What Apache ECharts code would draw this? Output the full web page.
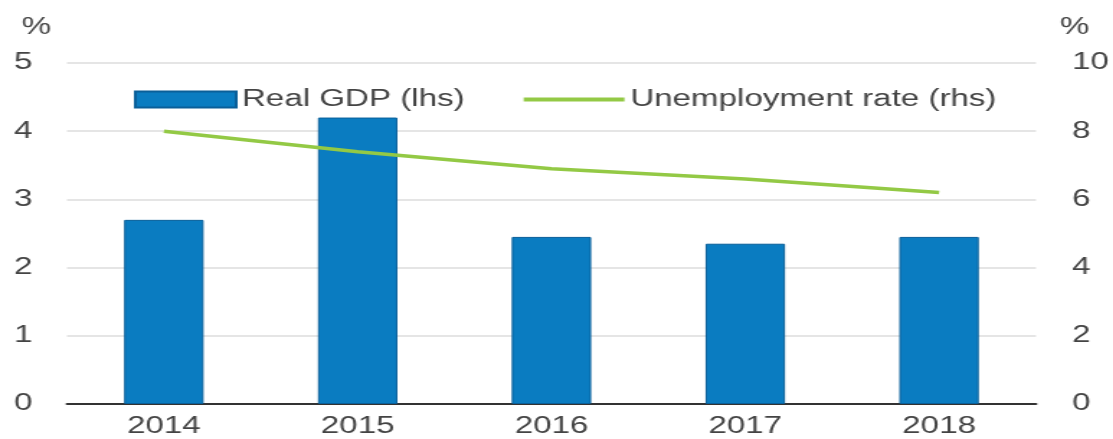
<!DOCTYPE html>
<html>
<head>
<meta charset="utf-8">
<script src="https://cdn.jsdelivr.net/npm/echarts@6/dist/echarts.min.js"></script>
<style>
	html, body { margin: 0; padding: 0; background: #fff; overflow: hidden; }
	/* the source picture is stretched sideways, so the chart is too */
	#chart { width: 773px; height: 439px; transform: scaleX(1.44); transform-origin: 0 0; }
</style>
</head>
<body>
<div id="chart"></div>
<script>
"use strict";
var years = [ '2014', '2015', '2016', '2017', '2018' ];
var realGdp = [ 2.7, 4.2, 2.45, 2.35, 2.45 ];
var unemployment = [ 8.0, 7.4, 6.9, 6.6, 6.2 ];
var leftTicks = { min : 0, max : 5, interval : 1 };
var rightTicks = { min : 0, max : 10, interval : 2 };

var textColor = '#444';
var fontFamily = '"Liberation Sans", Arial, sans-serif';

function gdpChart() {
	var chart = echarts.init(document.getElementById('chart'));

	chart.setOption({
		animation : false,
		textStyle : {
			fontFamily : fontFamily
		},
		grid : {
			left : 46.5,
			right : 53,
			top : 63,
			bottom : 35
		},
		legend : {
			left : 88,
			top : 83,
			itemWidth : 70,
			itemHeight : 16,
			itemGap : 39,
			textStyle : {
				fontSize : 23,
				color : textColor,
				padding : [ 0, 0, 0, -1 ]
			},
			data : [ {
				name : 'Real GDP (lhs)',
				icon : 'rect'
			}, {
				name : 'Unemployment rate (rhs)',
				// no marker in the middle of the line key
				itemStyle : {
					opacity : 0
				},
				lineStyle : {
					width : 4
				}
			} ]
		},
		graphic : [ {
			type : 'text',
			left : 15,
			top : 16,
			style : {
				text : '%',
				fontSize : 23,
				fill : textColor,
				fontFamily : fontFamily
			}
		}, {
			type : 'text',
			left : 736,
			top : 16,
			style : {
				text : '%',
				fontSize : 23,
				fill : textColor,
				fontFamily : fontFamily
			}
		} ],
		xAxis : {
			type : 'category',
			data : years,
			axisLine : {
				lineStyle : {
					color : '#333',
					width : 2
				}
			},
			axisTick : {
				inside : true,
				length : 5,
				lineStyle : {
					color : '#333',
					width : 2
				}
			},
			axisLabel : {
				fontSize : 23,
				color : textColor,
				margin : 11
			}
		},
		yAxis : [ {
			type : 'value',
			min : leftTicks.min,
			max : leftTicks.max,
			interval : leftTicks.interval,
			axisLine : { show : false },
			axisTick : { show : false },
			axisLabel : {
				fontSize : 23,
				color : textColor,
				margin : 24
			},
			splitLine : {
				lineStyle : {
					color : '#dcdcdc',
					width : 1.5
				}
			}
		}, {
			type : 'value',
			min : rightTicks.min,
			max : rightTicks.max,
			interval : rightTicks.interval,
			axisLine : { show : false },
			axisTick : { show : false },
			axisLabel : {
				fontSize : 23,
				color : textColor,
				margin : 25
			},
			splitLine : { show : false }
		} ],
		series : [ {
			name : 'Real GDP (lhs)',
			type : 'bar',
			data : realGdp,
			barWidth : '41%',
			itemStyle : {
				color : '#0a7cc1',
				borderColor : '#0a5f99',
				borderWidth : 1
			}
		}, {
			name : 'Unemployment rate (rhs)',
			type : 'line',
			yAxisIndex : 1,
			data : unemployment,
			symbol : 'none',
			z : 5,
			lineStyle : {
				color : '#93c945',
				width : 3.5
			},
			itemStyle : {
				color : '#93c945'
			}
		} ]
	});
}

gdpChart();
</script>
</body>
</html>
